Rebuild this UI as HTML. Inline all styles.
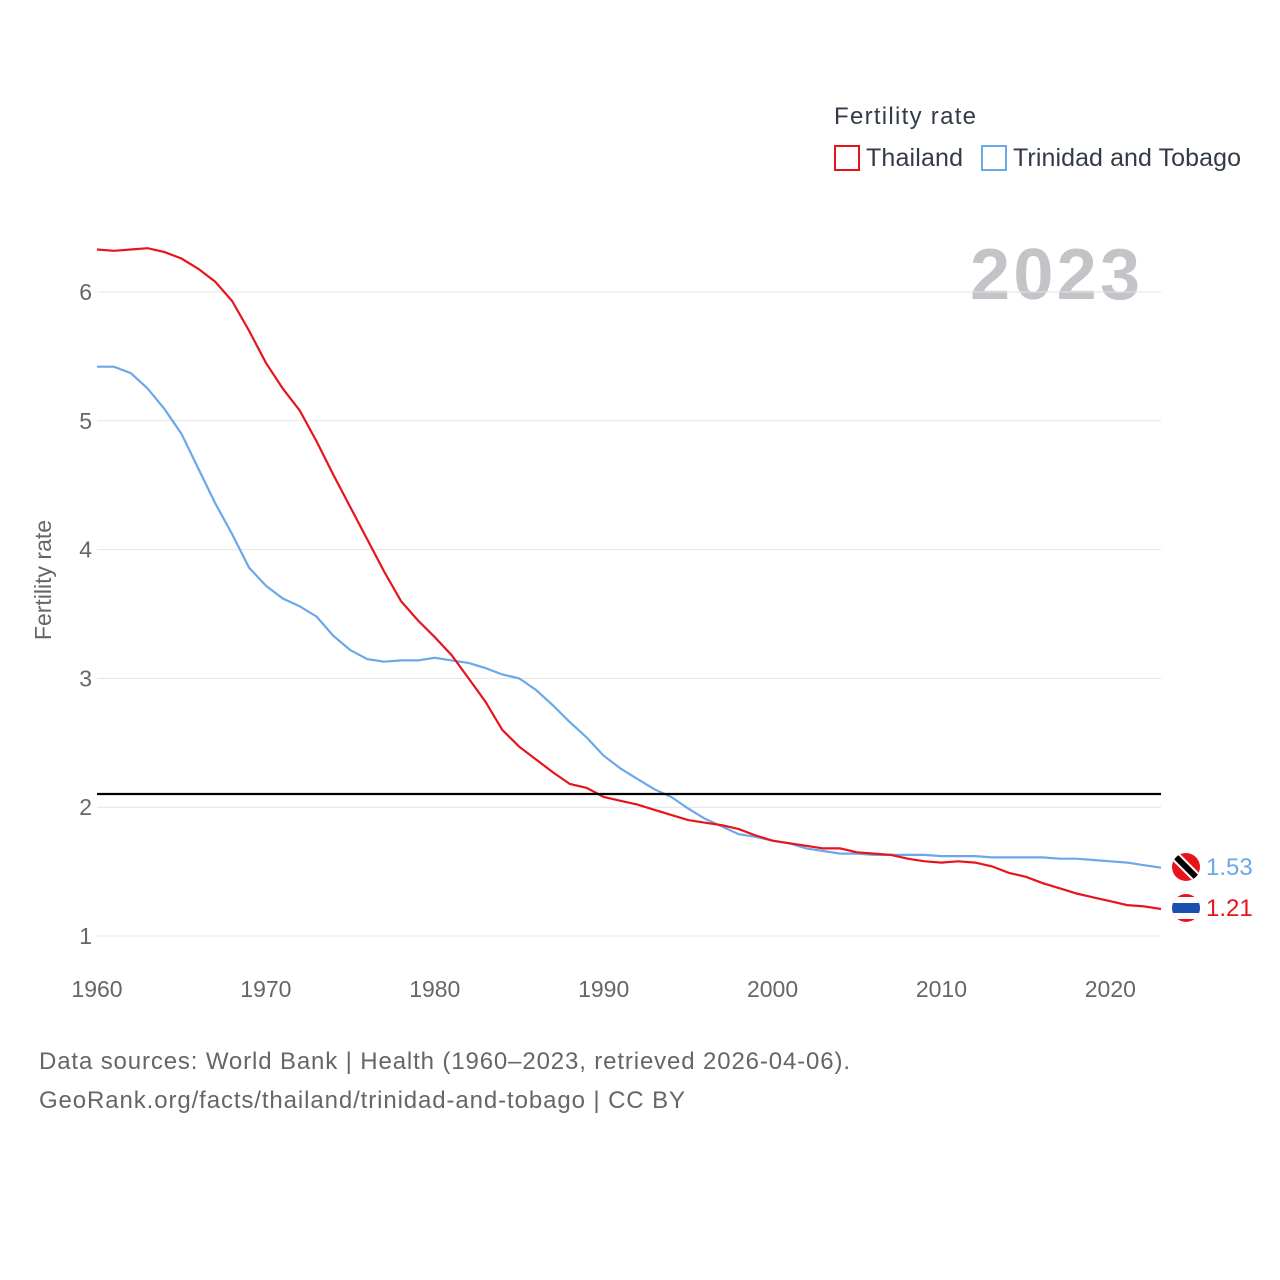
<!DOCTYPE html>
<html><head><meta charset="utf-8">
<style>
body{margin:0;background:#fff;}
svg{display:block;font-family:"Liberation Sans",sans-serif;}
</style></head>
<body>
<svg id="chart" width="1280" height="1280" viewBox="0 0 1280 1280">
<text x="834" y="124" font-size="24" fill="#333a48" textLength="142">Fertility rate</text>
<g>
<rect x="835" y="146" width="24" height="24" fill="none" stroke="#e8141c" stroke-width="2"/>
<text x="866" y="166" font-size="25" fill="#333a48" textLength="97">Thailand</text></g>
<g>
<rect x="982" y="146" width="24" height="24" fill="none" stroke="#6aa8ea" stroke-width="2"/>
<text x="1013" y="166" font-size="25" fill="#333a48" textLength="228">Trinidad and Tobago</text></g>
<text x="970" y="299" font-size="72" font-weight="bold" fill="#c4c4c8" textLength="170">2023</text>
<text transform="translate(51,580) rotate(-90)" font-size="23" fill="#666" text-anchor="middle">Fertility rate</text>
<g id="grid"></g><g id="lines"></g>
<line x1="97" x2="1161" y1="794" y2="794" stroke="#000" stroke-width="2.2"/>
<g>
<clipPath id="c1"><circle cx="1186" cy="867" r="14"/></clipPath>
<g clip-path="url(#c1)"><rect x="1170" y="851" width="32" height="32" fill="#e8141c"/>
<line x1="1172" y1="853" x2="1200" y2="881" stroke="#fff" stroke-width="10"/>
<line x1="1172" y1="853" x2="1200" y2="881" stroke="#000" stroke-width="6"/></g></g>
<g>
<clipPath id="c2"><circle cx="1186" cy="908" r="14"/></clipPath>
<g clip-path="url(#c2)"><rect x="1170" y="892" width="32" height="32" fill="#e8141c"/>
<rect x="1170" y="897" width="32" height="22" fill="#fff"/>
<rect x="1170" y="903" width="32" height="10" fill="#1a4fb0"/></g></g>
<text x="1206" y="875" font-size="24" fill="#6aa8ea">1.53</text>
<text x="1206" y="916" font-size="24" fill="#e8141c">1.21</text>
<text x="39" y="1069" font-size="24" fill="#666" textLength="811">Data sources: World Bank | Health (1960–2023, retrieved 2026-04-06).</text>
<text x="39" y="1108" font-size="24" fill="#666" textLength="646">GeoRank.org/facts/thailand/trinidad-and-tobago | CC BY</text>
</svg>
<script>
const years=[];for(let y=1960;y<=2023;y++)years.push(y);
const thailand=[6.33,6.32,6.33,6.34,6.31,6.26,6.18,6.08,5.93,5.70,5.45,5.25,5.08,4.84,4.58,4.33,4.08,3.83,3.60,3.45,3.32,3.18,3.00,2.82,2.60,2.47,2.37,2.27,2.18,2.15,2.08,2.05,2.02,1.98,1.94,1.90,1.88,1.86,1.83,1.78,1.74,1.72,1.70,1.68,1.68,1.65,1.64,1.63,1.60,1.58,1.57,1.58,1.57,1.54,1.49,1.46,1.41,1.37,1.33,1.30,1.27,1.24,1.23,1.21];
const trinidad=[5.42,5.42,5.37,5.25,5.09,4.90,4.63,4.36,4.12,3.86,3.72,3.62,3.56,3.48,3.33,3.22,3.15,3.13,3.14,3.14,3.16,3.14,3.12,3.08,3.03,3.00,2.91,2.79,2.66,2.54,2.40,2.30,2.22,2.14,2.08,1.99,1.91,1.85,1.79,1.77,1.74,1.72,1.68,1.66,1.64,1.64,1.63,1.63,1.63,1.63,1.62,1.62,1.62,1.61,1.61,1.61,1.61,1.60,1.60,1.59,1.58,1.57,1.55,1.53];
const yTicks=[1,2,3,4,5,6];
const xTicks=[1960,1970,1980,1990,2000,2010,2020];
const NS="http://www.w3.org/2000/svg";
const X=y=>97+(y-1960)*(1064/63);
const Y=v=>936-(v-1)*128.8;
const grid=document.getElementById('grid'),lines=document.getElementById('lines');
yTicks.forEach(t=>{
 const l=document.createElementNS(NS,'line');
 l.setAttribute('x1',97);l.setAttribute('x2',1161);l.setAttribute('y1',Y(t));l.setAttribute('y2',Y(t));
 l.setAttribute('stroke','#e4e4e4');
 
 
 grid.appendChild(l);
 const tx=document.createElementNS(NS,'text');
 tx.setAttribute('x',92);tx.setAttribute('y',Y(t)+8);tx.setAttribute('text-anchor','end');
 tx.setAttribute('font-size','23');tx.setAttribute('fill','#666');tx.textContent=t;
 
 
 grid.appendChild(tx);
});
xTicks.forEach(t=>{
 const tx=document.createElementNS(NS,'text');
 tx.setAttribute('x',X(t));tx.setAttribute('y',997);tx.setAttribute('text-anchor','middle');
 tx.setAttribute('font-size','23');tx.setAttribute('fill','#666');tx.textContent=t;
 
 
 grid.appendChild(tx);
});
function draw(vals,color,name){
 const p=document.createElementNS(NS,'path');
 p.setAttribute('d',vals.map((v,i)=>(i?'L':'M')+X(years[i]).toFixed(1)+','+Y(v).toFixed(1)).join(''));
 p.setAttribute('fill','none');p.setAttribute('stroke',color);p.setAttribute('stroke-width','2.2');
 
 
 lines.appendChild(p);
}
draw(trinidad,'#6aa8ea','trinidad-line');
draw(thailand,'#e8141c','thailand-line');
</script>
</body></html>
